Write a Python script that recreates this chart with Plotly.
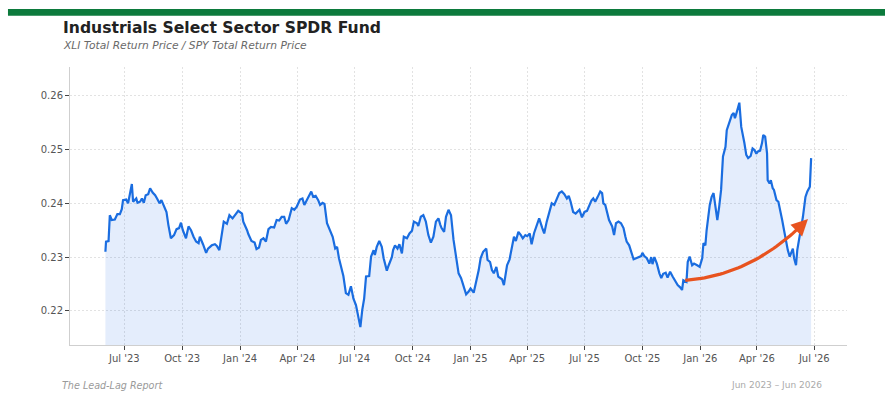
import plotly.graph_objects as go
import pandas as pd

# ---- data ----
dates = [
 "2023-06-01","2023-06-02","2023-06-06","2023-06-08","2023-06-11","2023-06-16","2023-06-20","2023-06-24","2023-06-27","2023-06-29",
 "2023-07-04","2023-07-07","2023-07-13","2023-07-15","2023-07-20","2023-07-22","2023-07-26","2023-07-29","2023-08-01","2023-08-04",
 "2023-08-08","2023-08-11","2023-08-15","2023-08-19","2023-08-22","2023-08-26","2023-08-29","2023-09-02","2023-09-06","2023-09-09",
 "2023-09-13","2023-09-18","2023-09-22","2023-09-26","2023-09-29","2023-10-02","2023-10-07","2023-10-11","2023-10-15","2023-10-19",
 "2023-10-23","2023-10-27","2023-10-29","2023-11-03","2023-11-08","2023-11-11","2023-11-17","2023-11-22","2023-11-25","2023-11-29",
 "2023-12-03","2023-12-06","2023-12-11","2023-12-15","2023-12-20","2023-12-24","2023-12-29",
 "2024-01-04","2024-01-06","2024-01-12","2024-01-14","2024-01-19","2024-01-24","2024-01-27","2024-01-31","2024-02-03","2024-02-07",
 "2024-02-11","2024-02-15","2024-02-19","2024-02-24","2024-02-28","2024-03-03","2024-03-07","2024-03-11","2024-03-14","2024-03-18",
 "2024-03-23","2024-03-27","2024-03-31","2024-04-05","2024-04-09","2024-04-12","2024-04-16","2024-04-19","2024-04-23","2024-04-26",
 "2024-04-30","2024-05-04","2024-05-07","2024-05-11","2024-05-14","2024-05-18","2024-05-23","2024-05-27","2024-05-31","2024-06-03",
 "2024-06-06","2024-06-09","2024-06-13","2024-06-17","2024-06-21","2024-06-25","2024-06-29","2024-07-03","2024-07-07","2024-07-10",
 "2024-07-13","2024-07-16","2024-07-19","2024-07-24","2024-07-27","2024-07-31","2024-08-02","2024-08-05","2024-08-09","2024-08-13",
 "2024-08-16","2024-08-21","2024-08-24","2024-08-29","2024-08-31","2024-09-03","2024-09-07","2024-09-10","2024-09-14","2024-09-17",
 "2024-09-22","2024-09-26","2024-09-30","2024-10-03","2024-10-08","2024-10-10","2024-10-14","2024-10-18","2024-10-22","2024-10-26",
 "2024-10-30","2024-11-03","2024-11-07","2024-11-11","2024-11-14","2024-11-16","2024-11-20","2024-11-23","2024-11-27","2024-12-01",
 "2024-12-05","2024-12-09","2024-12-13","2024-12-17","2024-12-21","2024-12-25","2024-12-29",
 "2025-01-01","2025-01-06","2025-01-10","2025-01-14","2025-01-17","2025-01-21","2025-01-26","2025-01-28","2025-02-01","2025-02-04",
 "2025-02-07","2025-02-11","2025-02-14","2025-02-20","2025-02-23","2025-02-28","2025-03-04","2025-03-08","2025-03-11","2025-03-14",
 "2025-03-18","2025-03-22","2025-03-25","2025-03-29","2025-04-01","2025-04-05","2025-04-08","2025-04-12","2025-04-16","2025-04-20",
 "2025-04-25","2025-04-28","2025-05-02","2025-05-06","2025-05-10","2025-05-14","2025-05-18","2025-05-22","2025-05-26","2025-05-30",
 "2025-06-03","2025-06-06","2025-06-09","2025-06-13","2025-06-17","2025-06-20","2025-06-23","2025-06-27","2025-07-01","2025-07-05",
 "2025-07-08","2025-07-12","2025-07-15","2025-07-18","2025-07-22","2025-07-26","2025-07-29","2025-07-31","2025-08-03","2025-08-06",
 "2025-08-09","2025-08-14","2025-08-17","2025-08-20","2025-08-24","2025-08-28","2025-09-01","2025-09-04","2025-09-06","2025-09-10",
 "2025-09-13","2025-09-17","2025-09-21","2025-09-25","2025-09-29","2025-10-01","2025-10-04","2025-10-08","2025-10-12","2025-10-15",
 "2025-10-17","2025-10-20","2025-10-24","2025-10-28","2025-10-31","2025-11-03","2025-11-07","2025-11-10","2025-11-14","2025-11-18",
 "2025-11-22","2025-11-26","2025-11-30","2025-12-03","2025-12-05","2025-12-10","2025-12-12","2025-12-15","2025-12-19","2025-12-22",
 "2025-12-27","2025-12-31",
 "2026-01-04","2026-01-06","2026-01-09","2026-01-11","2026-01-16","2026-01-19","2026-01-22","2026-01-25","2026-01-28","2026-01-31",
 "2026-02-03","2026-02-06","2026-02-10","2026-02-12","2026-02-16","2026-02-20","2026-02-23","2026-02-25","2026-02-28","2026-03-04",
 "2026-03-07","2026-03-10","2026-03-12","2026-03-15","2026-03-18","2026-03-22","2026-03-25","2026-03-28","2026-03-31","2026-04-02",
 "2026-04-06","2026-04-09","2026-04-11","2026-04-14","2026-04-17","2026-04-18","2026-04-21","2026-04-23","2026-04-26","2026-04-28",
 "2026-05-02","2026-05-05","2026-05-08","2026-05-11","2026-05-14","2026-05-17","2026-05-20","2026-05-23","2026-05-25","2026-05-28",
 "2026-05-30","2026-06-02","2026-06-04","2026-06-08","2026-06-10","2026-06-13","2026-06-17","2026-06-20","2026-06-24","2026-06-26",
]

ratio = [
 0.2310,0.2329,0.2330,0.2378,0.2369,0.2370,0.2380,0.2380,0.2389,0.2406,
 0.2407,0.2400,0.2436,0.2403,0.2409,0.2401,0.2403,0.2409,0.2401,0.2415,
 0.2417,0.2428,0.2420,0.2415,0.2409,0.2400,0.2406,0.2394,0.2384,0.2360,
 0.2335,0.2341,0.2352,0.2354,0.2364,0.2350,0.2335,0.2357,0.2350,0.2338,
 0.2329,0.2326,0.2338,0.2324,0.2308,0.2316,0.2322,0.2324,0.2321,0.2313,
 0.2347,0.2366,0.2362,0.2378,0.2372,0.2378,0.2386,
 0.2381,0.2366,0.2350,0.2343,0.2330,0.2327,0.2315,0.2318,0.2332,0.2335,
 0.2329,0.2352,0.2356,0.2355,0.2369,0.2368,0.2375,0.2375,0.2362,0.2369,
 0.2391,0.2388,0.2394,0.2407,0.2409,0.2397,0.2406,0.2414,0.2422,0.2412,
 0.2414,0.2406,0.2397,0.2401,0.2399,0.2363,0.2350,0.2338,0.2316,0.2319,
 0.2298,0.2282,0.2265,0.2233,0.2230,0.2246,0.2223,0.2211,0.2186,0.2170,
 0.2202,0.2223,0.2264,0.2265,0.2301,0.2313,0.2304,0.2319,0.2330,0.2319,
 0.2298,0.2275,0.2285,0.2300,0.2313,0.2322,0.2316,0.2324,0.2307,0.2338,
 0.2335,0.2344,0.2349,0.2366,0.2363,0.2358,0.2375,0.2378,0.2366,0.2341,
 0.2327,0.2338,0.2366,0.2372,0.2360,0.2354,0.2347,0.2375,0.2388,0.2378,
 0.2332,0.2301,0.2270,0.2261,0.2245,0.2231,0.2236,
 0.2242,0.2234,0.2254,0.2276,0.2298,0.2310,0.2316,0.2295,0.2291,0.2276,
 0.2270,0.2282,0.2264,0.2259,0.2248,0.2285,0.2296,0.2322,0.2338,0.2330,
 0.2347,0.2341,0.2335,0.2341,0.2339,0.2344,0.2324,0.2345,0.2357,0.2372,
 0.2354,0.2344,0.2366,0.2381,0.2400,0.2397,0.2409,0.2419,0.2422,0.2417,
 0.2409,0.2414,0.2403,0.2384,0.2381,0.2384,0.2388,0.2374,0.2384,0.2386,
 0.2395,0.2405,0.2409,0.2403,0.2412,0.2422,0.2419,0.2400,0.2397,0.2381,
 0.2369,0.2357,0.2341,0.2363,0.2366,0.2363,0.2354,0.2338,0.2329,0.2322,
 0.2312,0.2296,0.2298,0.2300,0.2302,0.2308,0.2302,0.2298,0.2288,0.2300,
 0.2287,0.2300,0.2288,0.2270,0.2261,0.2269,0.2271,0.2262,0.2273,0.2264,
 0.2257,0.2248,0.2244,0.2239,0.2257,0.2254,0.2291,0.2301,0.2285,0.2288,
 0.2285,0.2282,
 0.2298,0.2326,0.2322,0.2350,0.2397,0.2412,0.2419,0.2397,0.2369,0.2394,
 0.2425,0.2487,0.2505,0.2536,0.2552,0.2564,0.2568,0.2558,0.2570,0.2587,
 0.2542,0.2527,0.2512,0.2490,0.2484,0.2488,0.2502,0.2499,0.2492,0.2496,
 0.2498,0.2512,0.2527,0.2524,0.2493,0.2443,0.2437,0.2443,0.2428,0.2425,
 0.2406,0.2403,0.2388,0.2369,0.2350,0.2329,0.2313,0.2301,0.2307,0.2316,
 0.2298,0.2285,0.2313,0.2338,0.2350,0.2375,0.2412,0.2422,0.2431,0.2484,
]

y_ticks = [0.22, 0.23, 0.24, 0.25, 0.26]

title_text = "Industrials Select Sector SPDR Fund"
subtitle_text = "XLI Total Return Price / SPY Total Return Price"
source_text = "The Lead-Lag Report"
period_text = "Jun 2023 \u2013 Jun 2026"

# annotation arrow anchors (start, control, end) as (date, value)
arrow_start = ("2025-12-08", 0.2257)
arrow_ctrl = ("2026-03-26", 0.2266)
arrow_end = ("2026-06-21", 0.2371)

FONT = "DejaVu Sans"
LINE_BLUE = "#1a6de0"
ORANGE = "#e8531f"
GRID = "#e2e2e2"

fig = go.Figure()

fig.add_trace(go.Scatter(
    x=pd.to_datetime(dates), y=ratio, mode="lines",
    line=dict(color=LINE_BLUE, width=2.2),
    fill="tozeroy", fillcolor="rgba(30,110,230,0.12)",
    hoverinfo="skip", showlegend=False,
))

# curved arrow (quadratic Bezier between anchors)
t0 = pd.Timestamp(arrow_start[0]).value
t1 = pd.Timestamp(arrow_ctrl[0]).value
t2 = pd.Timestamp(arrow_end[0]).value
bx, by = [], []
n = 40
for i in range(n + 1):
    s = i / n * 0.96
    bt = (1 - s) ** 2 * t0 + 2 * (1 - s) * s * t1 + s ** 2 * t2
    bv = (1 - s) ** 2 * arrow_start[1] + 2 * (1 - s) * s * arrow_ctrl[1] + s ** 2 * arrow_end[1]
    bx.append(pd.Timestamp(int(bt)))
    by.append(bv)
fig.add_trace(go.Scatter(
    x=bx, y=by, mode="lines",
    line=dict(color=ORANGE, width=3.2),
    hoverinfo="skip", showlegend=False,
))

fig.add_annotation(
    x=arrow_end[0], y=arrow_end[1], xref="x", yref="y",
    ax=-12, ay=12, axref="pixel", ayref="pixel",
    showarrow=True, arrowhead=2, arrowsize=1.1, arrowwidth=3,
    arrowcolor=ORANGE, text="",
)

fig.update_xaxes(
    range=["2023-04-05T18:00", "2026-08-22"],
    type="date",
    tick0="2023-07-01", dtick="M3", tickformat="%b '%y",
    showgrid=True, gridcolor=GRID, griddash="2px,2px", gridwidth=1,
    showline=True, linecolor="#cfcfcf", linewidth=1,
    ticks="outside", ticklen=4, tickcolor="#444", tickwidth=1,
    tickfont=dict(family=FONT, size=10, color="#555"),
    zeroline=False, fixedrange=True,
)
fig.update_yaxes(
    range=[0.21368, 0.26533],
    tickvals=y_ticks, ticktext=[f"{v:.2f}" for v in y_ticks],
    showgrid=True, gridcolor=GRID, griddash="2px,2px", gridwidth=1,
    showline=True, linecolor="#cfcfcf", linewidth=1,
    ticks="outside", ticklen=4, tickcolor="#444", tickwidth=1,
    tickfont=dict(family=FONT, size=10, color="#555"),
    zeroline=False, fixedrange=True,
)

PW = 776.7
PH = 278.0

def px_x(x):
    return (x - 70) / PW

def px_y(y):
    return (345 - y) / PH

fig.add_shape(
    type="rect", xref="paper", yref="paper",
    x0=px_x(8), x1=px_x(885), y0=px_y(15.8), y1=px_y(9),
    fillcolor="#0c7a3c", line=dict(width=0), layer="above",
)

fig.add_annotation(
    text=title_text, xref="paper", yref="paper", x=px_x(61.5), y=px_y(27.5),
    xanchor="left", yanchor="middle", showarrow=False,
    font=dict(family=FONT, size=15.6, color="#222", weight="bold"),
)
fig.add_annotation(
    text="<i>" + subtitle_text + "</i>", xref="paper", yref="paper", x=px_x(61), y=px_y(45),
    xanchor="left", yanchor="middle", showarrow=False,
    font=dict(family=FONT, size=10.7, color="#6a6a6a"),
)
fig.add_annotation(
    text="<i>" + source_text + "</i>", xref="paper", yref="paper", x=px_x(60.5), y=px_y(385),
    xanchor="left", yanchor="middle", showarrow=False,
    font=dict(family=FONT, size=9.6, color="#9a9a9a"),
)
fig.add_annotation(
    text=period_text, xref="paper", yref="paper", x=px_x(824), y=px_y(385),
    xanchor="right", yanchor="middle", showarrow=False,
    font=dict(family=FONT, size=9, color="#aaaaaa"),
)

fig.update_layout(
    width=885, height=399,
    margin=dict(l=70, r=885 - 846.7, t=67, b=399 - 345),
    paper_bgcolor="white", plot_bgcolor="white",
    showlegend=False,
    font=dict(family=FONT),
)

fig.write_html("out.html")
